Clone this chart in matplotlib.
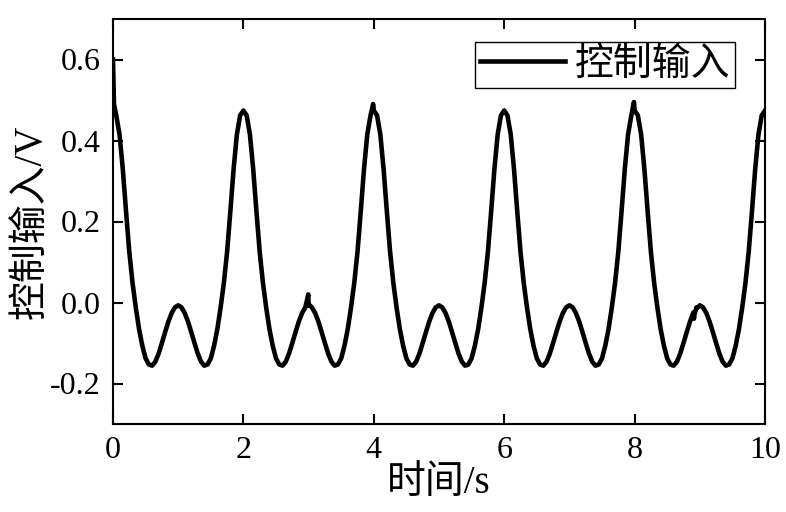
import numpy as np
import matplotlib
matplotlib.use('Agg')
import matplotlib.pyplot as plt

plt.rcParams['font.family'] = ['Liberation Serif', 'Noto Sans CJK SC']
plt.rcParams['axes.unicode_minus'] = False

# one period (2 s) of the control input, read every 0.05 s from the picture
period_t = np.arange(0, 2.0, 0.05)
period_u = [0.474, 0.462, 0.415, 0.330, 0.225, 0.125, 0.048, -0.013, -0.066, -0.107,
            -0.138, -0.153, -0.156, -0.146, -0.126, -0.100, -0.073, -0.047, -0.026, -0.012,
            -0.007, -0.012, -0.026, -0.047, -0.073, -0.100, -0.126, -0.146, -0.156, -0.153,
            -0.138, -0.107, -0.066, -0.013, 0.048, 0.125, 0.225, 0.330, 0.415, 0.462]
n_periods = 5
end_u = 0.474

# small spikes / jitter seen on the trace
spike_t = [0.0, 0.015, 2.995, 3.005, 3.99, 7.99, 8.90, 8.91, 8.92, 8.95]
spike_u = [0.60, 0.49, 0.02, -0.005, 0.49, 0.495, -0.025, -0.04, -0.028, -0.015]

t = np.concatenate([period_t + 2 * k for k in range(n_periods)] + [[10.0]])
u = np.concatenate([np.array(period_u)] * n_periods + [[end_u]])
# replace the first base sample with the spike value, then merge the rest
t = np.concatenate([t[1:], spike_t])
u = np.concatenate([u[1:], spike_u])
order = np.argsort(t, kind='stable')
t, u = t[order], u[order]

fig = plt.figure(figsize=(7.86, 5.12), dpi=100)
ax = fig.add_axes([113 / 786, 1 - 424 / 512, 652 / 786, 405 / 512])
ax.plot(t, u, color='black', lw=3.3, label='控制输入', solid_joinstyle='round')

ax.set_xlim(0, 10)
ax.set_ylim(-0.3, 0.7)
ax.set_xticks([0, 2, 4, 6, 8, 10])
ax.set_yticks([-0.2, 0.0, 0.2, 0.4, 0.6])
ax.set_yticklabels(['-0.2', '0.0', '0.2', '0.4', '0.6'])
ax.tick_params(direction='in', length=7, width=1.5, labelsize=23,
               top=True, right=True, pad=9)
for s in ax.spines.values():
    s.set_linewidth(1.5)

ax.set_xlabel('时间/s', fontsize=28, labelpad=0)
ax.set_ylabel('控制输入/V', fontsize=28, labelpad=0)

leg = ax.legend(loc='upper right', bbox_to_anchor=(0.954, 0.943), fontsize=28,
                frameon=True, fancybox=False, edgecolor='black', framealpha=1,
                borderpad=0.12, handlelength=2.2, handletextpad=0.25, borderaxespad=0)
leg.get_frame().set_linewidth(1.0)

fig.savefig('out.png', dpi=100)
